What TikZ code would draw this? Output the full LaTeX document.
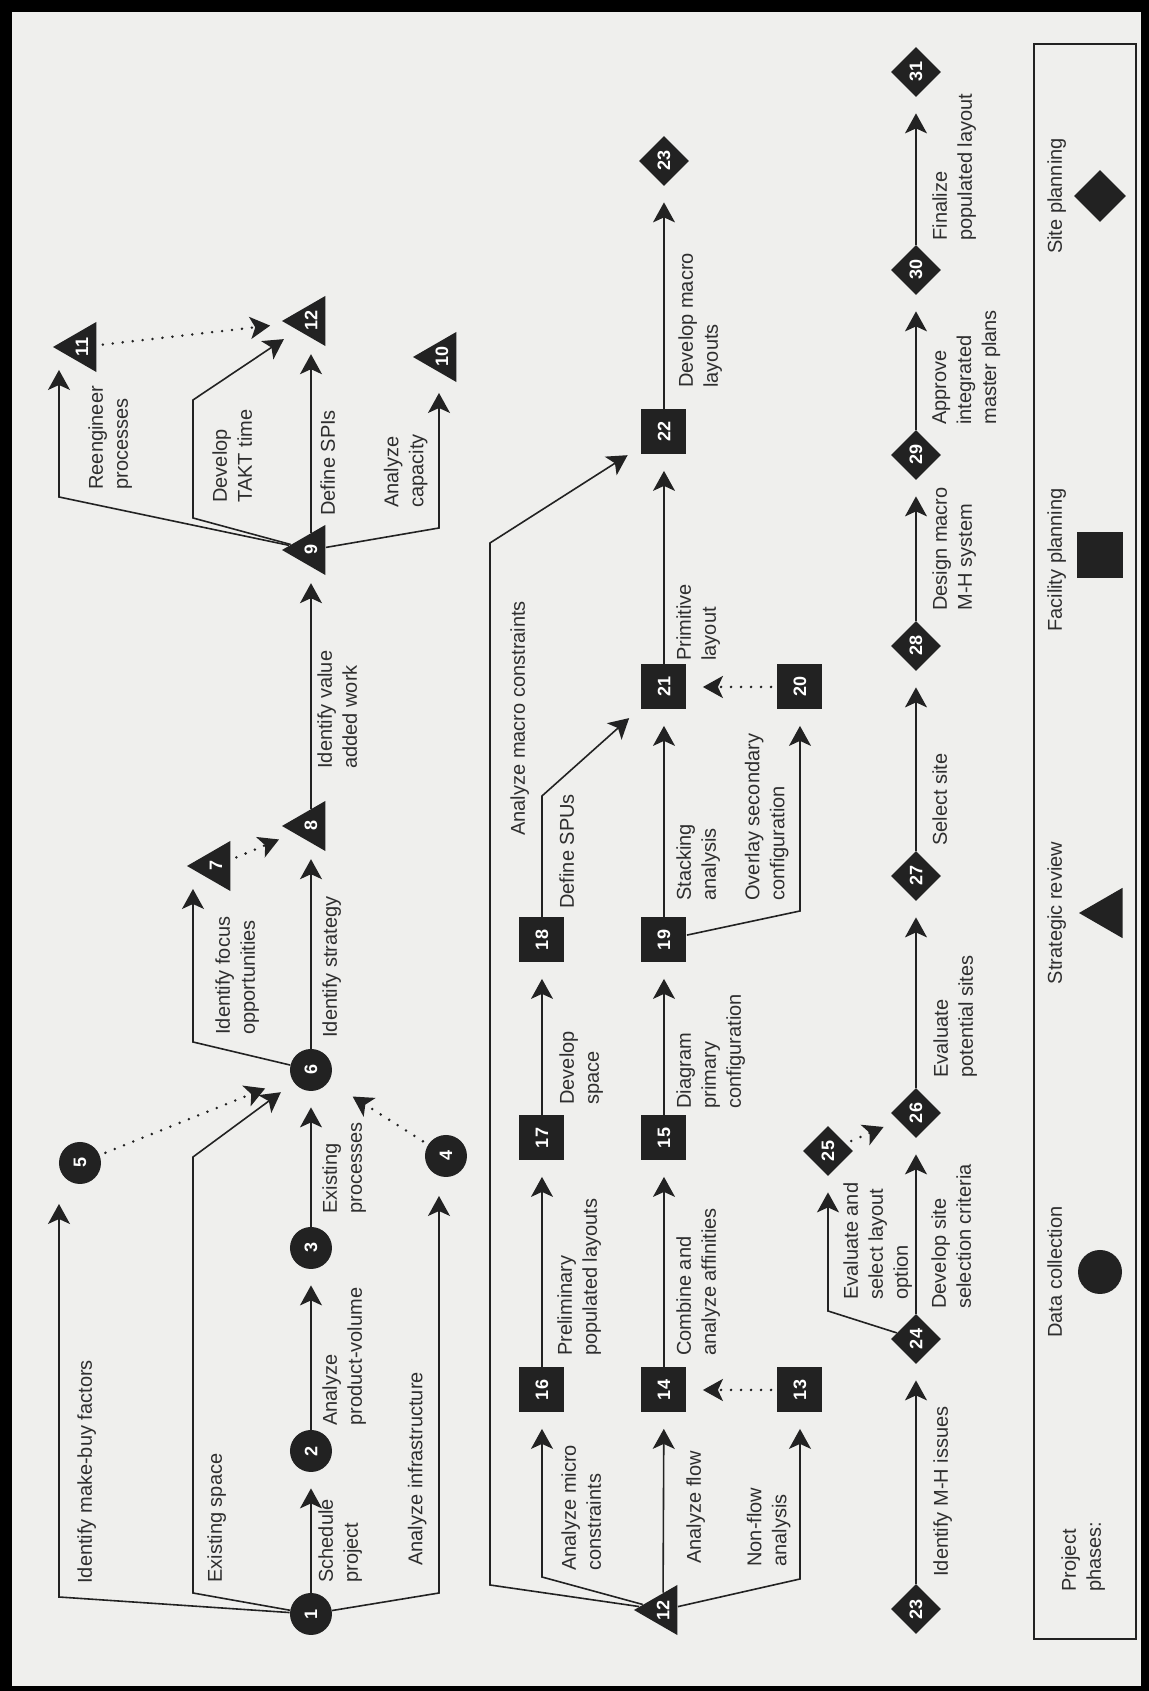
\documentclass[tikz,border=0pt]{standalone}
\usepackage{fontspec}
\setmainfont{Liberation Sans}
\usetikzlibrary{shapes.geometric,arrows.meta}
\definecolor{Paper}{HTML}{EFEFED}
\definecolor{Ink}{HTML}{222222}
\definecolor{TextInk}{HTML}{2E2E2E}
\begin{document}
\begin{tikzpicture}[x=0.5pt,y=0.5pt,rotate=90,transform shape,every node/.style={text=TextInk,font=\fontsize{10}{12.5}\selectfont},num/.style={fill=Ink,text=white,inner sep=0pt,font=\fontsize{9}{9}\selectfont\bfseries},collect/.style={num,circle,minimum size=21pt},review/.style={num,regular polygon,regular polygon sides=3,minimum size=29pt},facility/.style={num,rectangle,minimum size=22.5pt},site/.style={num,diamond,minimum size=25pt},note/.style={anchor=north west,inner sep=0pt,align=left},noteup/.style={anchor=south west,inner sep=0pt,align=left},link/.style={draw=Ink,line width=0.8pt,-{Stealth[length=10pt,width=11pt,inset=2.5pt]}},flow/.style={link,shorten >=8pt},hint/.style={link,shorten >=8pt,shorten <=3pt,line cap=round,dash pattern=on 0pt off 5pt,line width=1.4pt}]
\fill[black] (0,0) rectangle (1691,1149);
\fill[Paper] (5,8) rectangle (1679,1137);
% data collection
\node[collect] (n1) at (77,838){1};
\node[collect] (n2) at (240,838){2};
\node[collect] (n3) at (443,838){3};
\node[collect] (n4) at (535,703){4};
\node[collect] (n5) at (528,1069){5};
\node[collect] (n6) at (621,838){6};
% strategic review
\node[review] (n7) at (825,933){7};
\node[review] (n8) at (865,838){8};
\node[review] (n9) at (1141,838){9};
\node[review] (n10) at (1334,707){10};
\node[review] (n11) at (1344,1067){11};
\node[review] (n12u) at (1370,838){12};
\node[review] (n12l) at (81,486){12};
% facility planning
\node[facility] (n13) at (301,349){13};
\node[facility] (n14) at (301,485){14};
\node[facility] (n15) at (553,485){15};
\node[facility] (n16) at (301,607){16};
\node[facility] (n17) at (553,607){17};
\node[facility] (n18) at (751,607){18};
\node[facility] (n19) at (751,485){19};
\node[facility] (n20) at (1004,349){20};
\node[facility] (n21) at (1004,485){21};
\node[facility] (n22) at (1259,485){22};
% site planning
\node[site] (n23u) at (1530,485){23};
\node[site] (n23l) at (82,233){23};
\node[site] (n24) at (352,233){24};
\node[site] (n25) at (540,321){25};
\node[site] (n26) at (578,233){26};
\node[site] (n27) at (815,233){27};
\node[site] (n28) at (1045,233){28};
\node[site] (n29) at (1236,233){29};
\node[site] (n30) at (1421,233){30};
\node[site] (n31) at (1619,233){31};
% bends and free arrow ends
\coordinate (b1a) at (94,1090); \coordinate (t5) at (487,1090);
\coordinate (b1b) at (98,956); \coordinate (b1c) at (534,956);
\coordinate (b1d) at (98,710); \coordinate (t4) at (495,710);
\coordinate (b6) at (649,956); \coordinate (t7) at (802,956);
\coordinate (b9a) at (1194,1090); \coordinate (t11) at (1321,1090);
\coordinate (b9b) at (1173,956); \coordinate (b9c) at (1291,956);
\coordinate (b9d) at (1163,710); \coordinate (t10) at (1298,710);
\coordinate (b12a) at (106,659); \coordinate (b12b) at (1148,659);
\coordinate (b12c) at (114,607); \coordinate (b12d) at (112,349);
\coordinate (b18) at (895,607); \coordinate (b19) at (780,349);
\coordinate (b24) at (380,321);
% straight runs
\foreach \a/\b in {n1/n2,n2/n3,n3/n6,n6/n8,n8/n9,n9/n12u,n12l/n14,n14/n15,n15/n19,n19/n21,n21/n22,n22/n23u,n16/n17,n17/n18,n23l/n24,n24/n26,n26/n27,n27/n28,n28/n29,n29/n30,n30/n31}{\draw[flow] (\a) -- (\b);}
% branches
\draw[link] (n1) -- (b1a) -- (t5);
\draw[flow] (n1) -- (b1b) -- (b1c) -- (n6);
\draw[link] (n1) -- (b1d) -- (t4);
\draw[link] (n6) -- (b6) -- (t7);
\draw[link] (n9) -- (b9a) -- (t11);
\draw[flow] (n9) -- (b9b) -- (b9c) -- (n12u);
\draw[link] (n9) -- (b9d) -- (t10);
\draw[flow] (n12l) -- (b12a) -- (b12b) -- (n22);
\draw[flow] (n12l) -- (b12c) -- (n16);
\draw[flow] (n12l) -- (b12d) -- (n13);
\draw[flow] (n18) -- (b18) -- (n21);
\draw[flow] (n19) -- (b19) -- (n20);
\draw[flow] (n24) -- (b24) -- (n25);
% dotted feeds
\draw[hint,shorten >=14pt] (n5) -- (n6);
\draw[hint,shorten >=14pt] (n4) -- (n6);
\foreach \a/\b in {n7/n8,n11/n12u,n13/n14,n20/n21,n25/n26}{\draw[hint] (\a) -- (\b);}
% labels
\node[note] (tMakeBuy) at (107,1072){Identify make-buy factors};
\node[note] (tExSpace) at (108,942){Existing space};
\node[note] (tSched) at (108,831){Schedule\\project};
\node[note] (tProdVol) at (265,827){Analyze\\product-volume};
\node[note] (tExProc) at (477,827){Existing\\processes};
\node[noteup] (tInfra) at (125,722){Analyze infrastructure};
\node[note] (tFocus) at (656,934){Identify focus\\opportunities};
\node[note] (tStrat) at (653,827){Identify strategy};
\node[note] (tValue) at (922,832){Identify value\\added work};
\node[note] (tReeng) at (1201,1061){Reengineer\\processes};
\node[note] (tTakt) at (1188,937){Develop\\TAKT time};
\node[note] (tSPI) at (1175,829){Define SPIs};
\node[noteup] (tCap) at (1183,721){Analyze\\capacity};
\node[note] (tMacro) at (855,639){Analyze macro constraints};
\node[note] (tMicro) at (120,588){Analyze micro\\constraints};
\node[note] (tPrelim) at (335,592){Preliminary\\populated layouts};
\node[note] (tSpace) at (586,590){Develop\\space};
\node[note] (tSPU) at (782,590){Define SPUs};
\node[note] (tFlow) at (127,463){Analyze flow};
\node[note] (tAffin) at (335,473){Combine and\\analyze affinities};
\node[note] (tDiag) at (582,473){Diagram\\primary\\configuration};
\node[note] (tStack) at (790,473){Stacking\\analysis};
\node[note] (tPrim) at (1030,473){Primitive\\layout};
\node[note] (tMacLay) at (1303,471){Develop macro\\layouts};
\node[noteup] (tNonFlow) at (124,358){Non-flow\\analysis};
\node[noteup] (tOverlay) at (790,360){Overlay secondary\\configuration};
\node[note] (tMH) at (114,216){Identify M-H issues};
\node[note] (tSelLay) at (391,306){Evaluate and\\select layout\\option};
\node[note] (tCrit) at (382,218){Develop site\\selection criteria};
\node[note] (tPot) at (613,216){Evaluate\\potential sites};
\node[note] (tSel) at (845,217){Select site};
\node[note] (tMHsys) at (1080,217){Design macro\\M-H system};
\node[note] (tApprove) at (1266,217){Approve\\integrated\\master plans};
\node[note] (tFinal) at (1450,217){Finalize\\populated layout};
% legend
\draw[Ink,line width=0.8pt] (52,13) rectangle (1647,115);
\node[note] (tPhases) at (99,88){Project\\phases:};
\node[anchor=north,inner sep=0pt] (tCollect) at (419,102){Data collection};
\node[anchor=north,inner sep=0pt] (tReview) at (778,102){Strategic review};
\node[anchor=north,inner sep=0pt] (tFacility) at (1131,102){Facility planning};
\node[anchor=north,inner sep=0pt] (tSite) at (1495,102){Site planning};
\node[collect,minimum size=22pt] (kCollect) at (419,49){};
\node[review] (kReview) at (778,41){};
\node[facility,minimum size=23pt] (kFacility) at (1136,49){};
\node[site,minimum size=26pt] (kSite) at (1495,49){};
\end{tikzpicture}
\end{document}
